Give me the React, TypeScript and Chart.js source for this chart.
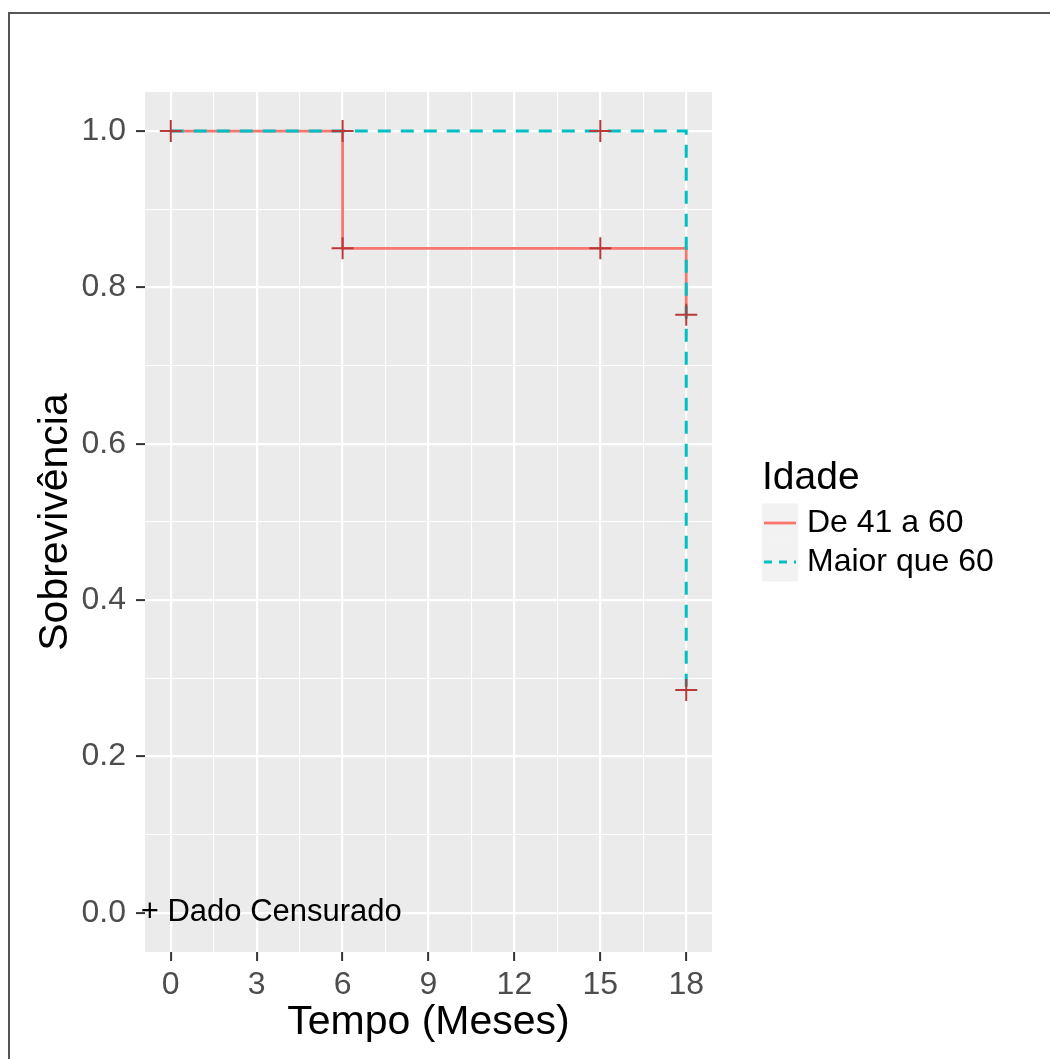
import React, { useEffect, useRef } from "react";
import { Chart, registerables } from "chart.js";

Chart.register(...registerables);

// ---- data ----
const seriesNames = ["De 41 a 60", "Maior que 60"];
const seriesColors = ["#F8766D", "#00BFC4"];
const redTimes = [0, 6, 18];
const redSurv = [1.0, 0.85, 0.765];
const cyanTimes = [0, 18];
const cyanSurv = [1.0, 0.285];
const censorTimes = [0, 6, 6, 15, 15, 18, 18];
const censorSurv = [1.0, 1.0, 0.85, 1.0, 0.85, 0.765, 0.285];
const xMajor = [0, 3, 6, 9, 12, 15, 18];
const xMinor = [1.5, 4.5, 7.5, 10.5, 13.5, 16.5];
const yMajor = [0, 0.2, 0.4, 0.6, 0.8, 1.0];
const yMinor = [0.1, 0.3, 0.5, 0.7, 0.9];
const xRange = [-0.9, 18.9];
const yRange = [-0.05, 1.05];
const legendTitle = "Idade";
const censorNote = "+ Dado Censurado";
const censorNotePos = { x: -1.05, y: 0 };

const FONT = '"Liberation Sans", Arial, Helvetica, sans-serif';

const panelBg = {
  id: "panelBg",
  beforeDraw(chart: any) {
    const { ctx, chartArea: a } = chart;
    ctx.save();
    ctx.fillStyle = "#EBEBEB";
    ctx.fillRect(a.left, a.top, a.right - a.left, a.bottom - a.top);
    ctx.restore();
  },
};

const extras = {
  id: "extras",
  afterDraw(chart: any) {
    const { ctx, chartArea: a, scales } = chart;
    ctx.save();
    // censor note
    ctx.font = `31px ${FONT}`;
    ctx.fillStyle = "#000000";
    ctx.textAlign = "left";
    ctx.textBaseline = "middle";
    ctx.fillText(
      censorNote,
      scales.x.getPixelForValue(censorNotePos.x),
      scales.y.getPixelForValue(censorNotePos.y)
    );
    // legend
    const L = a.right + 50;
    const cy = (a.top + a.bottom) / 2;
    ctx.font = `39px ${FONT}`;
    ctx.textBaseline = "alphabetic";
    ctx.fillText(legendTitle, L, cy - 33);
    const rowH = 39;
    seriesNames.forEach((name, i) => {
      const rc = cy + 1 + i * rowH;
      ctx.fillStyle = "#F2F2F2";
      ctx.fillRect(L, rc - rowH / 2, 36, rowH);
      ctx.strokeStyle = seriesColors[i];
      ctx.lineWidth = 2.8;
      ctx.setLineDash(i === 1 ? [8, 7] : []);
      ctx.beginPath();
      ctx.moveTo(L + 2, rc);
      ctx.lineTo(L + 34, rc);
      ctx.stroke();
      ctx.setLineDash([]);
      ctx.fillStyle = "#000000";
      ctx.font = `32px ${FONT}`;
      ctx.textBaseline = "middle";
      ctx.fillText(name, L + 45, rc);
    });
    ctx.restore();
  },
};

export default function App() {
  const ref = useRef<HTMLCanvasElement | null>(null);
  useEffect(() => {
    if (!ref.current) return;
    Chart.defaults.font.family = FONT;
    const xTicks = [...xMajor, ...xMinor].sort((a, b) => a - b);
    const yTicks = [...yMajor, ...yMinor].sort((a, b) => a - b);
    const isMaj = (arr: number[], v: number) => arr.some((m) => Math.abs(m - v) < 1e-9);
    const chart = new Chart(ref.current, {
      type: "line",
      data: {
        datasets: [
          {
            label: "censor",
            data: censorTimes.map((t, i) => ({ x: t, y: censorSurv[i] })),
            showLine: false,
            pointStyle: "cross",
            pointRadius: 11,
            pointBorderWidth: 2,
            pointBorderColor: "#B8393A",
            pointBackgroundColor: "#B8393A",
            clip: false,
          } as any,
          {
            label: seriesNames[1],
            data: cyanTimes.map((t, i) => ({ x: t, y: cyanSurv[i] })),
            borderColor: seriesColors[1],
            borderWidth: 3,
            borderDash: [13, 10],
            stepped: "before",
            pointRadius: 0,
            fill: false,
            clip: false,
          } as any,
          {
            label: seriesNames[0],
            data: redTimes.map((t, i) => ({ x: t, y: redSurv[i] })),
            borderColor: seriesColors[0],
            borderWidth: 2.8,
            stepped: "before",
            pointRadius: 0,
            fill: false,
            clip: false,
          } as any,
        ],
      },
      options: {
        animation: false,
        responsive: false,
        devicePixelRatio: 1,
        layout: { padding: { top: 92, right: 338, bottom: 0, left: 0 } },
        plugins: { legend: { display: false }, tooltip: { enabled: false } },
        scales: {
          x: {
            type: "linear",
            min: xRange[0],
            max: xRange[1],
            afterBuildTicks: (s: any) => {
              s.ticks = xTicks.map((v) => ({ value: v }));
            },
            afterFit: (s: any) => {
              s.height = 107;
            },
            border: { display: false },
            grid: {
              color: "#FFFFFF",
              lineWidth: (c: any) => (isMaj(xMajor, c.tick?.value) ? 2.2 : 1.1),
              drawTicks: true,
              tickLength: 9,
              tickWidth: 2,
              tickColor: (c: any) => (isMaj(xMajor, c.tick?.value) ? "#333333" : "rgba(0,0,0,0)"),
            },
            ticks: {
              autoSkip: false,
              maxRotation: 0,
              padding: 5,
              color: "#4D4D4D",
              font: { size: 32 },
              callback: (v: any) => (isMaj(xMajor, Number(v)) ? String(Math.round(Number(v))) : ""),
            },
            title: {
              display: true,
              text: "Tempo (Meses)",
              color: "#000000",
              font: { size: 41 },
              padding: { top: 0, bottom: 12 },
            },
          },
          y: {
            type: "linear",
            min: yRange[0],
            max: yRange[1],
            afterBuildTicks: (s: any) => {
              s.ticks = yTicks.map((v) => ({ value: v }));
            },
            afterFit: (s: any) => {
              s.width = 145;
            },
            border: { display: false },
            grid: {
              color: "#FFFFFF",
              lineWidth: (c: any) => (isMaj(yMajor, c.tick?.value) ? 2.2 : 1.1),
              drawTicks: true,
              tickLength: 9,
              tickWidth: 2,
              tickColor: (c: any) => (isMaj(yMajor, c.tick?.value) ? "#333333" : "rgba(0,0,0,0)"),
            },
            ticks: {
              autoSkip: false,
              padding: 10,
              color: "#4D4D4D",
              font: { size: 32 },
              callback: (v: any) => (isMaj(yMajor, Number(v)) ? Number(v).toFixed(1) : ""),
            },
            title: {
              display: true,
              text: "Sobrevivência",
              color: "#000000",
              font: { size: 41 },
              padding: { top: 31, bottom: 0 },
            },
          },
        },
      },
      plugins: [panelBg, extras],
    } as any);
    return () => chart.destroy();
  }, []);

  return (
    <div
      style={{
        position: "fixed",
        left: 0,
        top: 0,
        width: 1050,
        height: 1059,
        overflow: "hidden",
        background: "#FFFFFF",
      }}
    >
      <canvas ref={ref} width={1050} height={1059} style={{ display: "block" }} />
      <div
        style={{
          position: "absolute",
          left: 8,
          top: 12,
          width: 1200,
          height: 1200,
          borderLeft: "2px solid #555555",
          borderTop: "2px solid #555555",
          pointerEvents: "none",
        }}
      />
    </div>
  );
}
